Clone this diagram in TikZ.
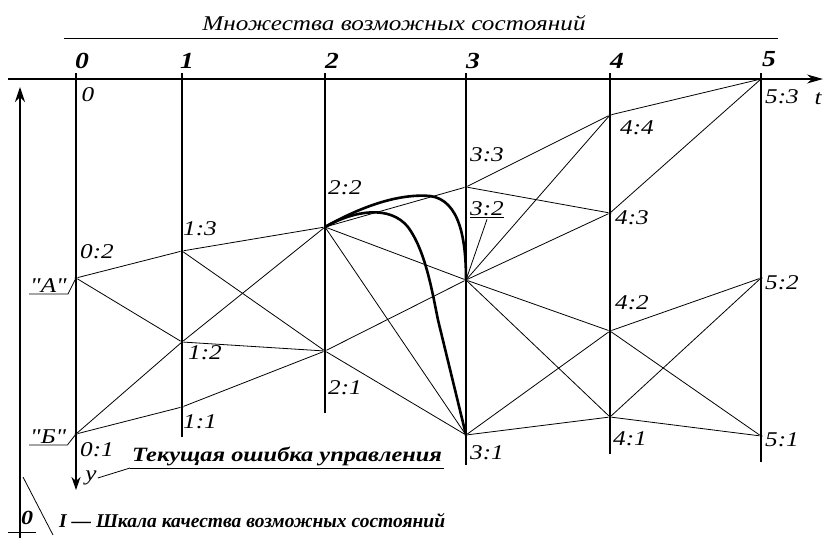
\documentclass[tikz,border=0pt]{standalone}
\usepackage{fontspec}
\setmainfont{Liberation Serif}
\newfontfamily\wideserif[FakeStretch=1.2]{Liberation Serif}
\usetikzlibrary{arrows.meta,positioning}

\begin{document}
\begin{tikzpicture}[
  x=1pt,y=-1pt,
  axis/.style={line width=1.2pt},
  edge/.style={line width=0.8pt},
  optimum/.style={line width=2.6pt,line cap=round},
  state/.style={circle,fill,inner sep=0pt,minimum size=3pt},
  lbl/.style={font=\wideserif\itshape\fontsize{21}{21}\selectfont,inner sep=1pt},
  colnum/.style={font=\wideserif\bfseries\itshape\fontsize{23}{23}\selectfont,inner sep=1pt},
  caption/.style={font=\wideserif\bfseries\itshape\fontsize{20}{20}\selectfont,inner sep=1pt}
]
\useasboundingbox (0,0) rectangle (825,538);
\node[lbl] (title) at (394,23) {Множества возможных состояний};
\draw[edge] (64,38) -- (778,38);
\node[colnum] (k0) at (82,61) {0};
\node[colnum] (k1) at (187,61) {1};
\node[colnum] (k2) at (332,61) {2};
\node[colnum] (k3) at (473,61) {3};
\node[colnum] (k4) at (617,61) {4};
\node[colnum] (k5) at (769,59) {5};
\draw[axis,-{Stealth[length=16pt,width=9pt,inset=5pt]}] (8,79) -- (823,79);
\node[lbl] (tlab) at (818,99) {t};
\draw[axis,-{Stealth[length=13pt,width=9pt,inset=4pt]}] (76,73) -- (76,490);
\draw[axis] (182,73) -- (182,437);
\draw[axis] (325,73) -- (325,413);
\draw[axis] (466,73) -- (466,465);
\draw[axis] (610,73) -- (610,454);
\draw[axis] (761,73) -- (761,462);
\draw[axis,-{Stealth[length=15pt,width=10pt,inset=5pt]}] (20,538) -- (20,87);
% states
\node[state] (s02) at (76,278) {};
\node[state] (s01) at (76,434) {};
\node[state] (s13) at (182,251) {};
\node[state] (s12) at (182,342) {};
\node[state] (s11) at (182,407) {};
\node[state] (s22) at (325,227) {};
\node[state] (s21) at (325,351) {};
\node[state] (s33) at (466,187) {};
\node[state] (s32) at (466,280) {};
\node[state] (s31) at (466,435) {};
\node[state] (s44) at (610,115) {};
\node[state] (s43) at (610,213) {};
\node[state] (s42) at (610,331) {};
\node[state] (s41) at (610,417) {};
\node[state] (s53) at (761,79) {};
\node[state] (s52) at (761,278) {};
\node[state] (s51) at (761,436) {};
% transitions
\draw[edge] (s02) -- (s13);
\draw[edge] (s02) -- (s12);
\draw[edge] (s01) -- (s12);
\draw[edge] (s01) -- (s11);
\draw[edge] (s13) -- (s22);
\draw[edge] (s13) -- (s21);
\draw[edge] (s12) -- (s22);
\draw[edge] (s12) -- (s21);
\draw[edge] (s11) -- (s21);
\draw[edge] (s22) -- (s33);
\draw[edge] (s22) -- (s32);
\draw[edge] (s22) -- (s31);
\draw[edge] (s21) -- (s32);
\draw[edge] (s21) -- (s31);
\draw[edge] (s33) -- (s44);
\draw[edge] (s33) -- (s43);
\draw[edge] (s32) -- (s44);
\draw[edge] (s32) -- (s43);
\draw[edge] (s32) -- (s42);
\draw[edge] (s32) -- (s41);
\draw[edge] (s31) -- (s42);
\draw[edge] (s31) -- (s41);
\draw[edge] (s44) -- (s53);
\draw[edge] (s43) -- (s53);
\draw[edge] (s42) -- (s52);
\draw[edge] (s42) -- (s51);
\draw[edge] (s41) -- (s52);
\draw[edge] (s41) -- (s51);
\draw[optimum] (s22.center) .. controls (355,210) and (395,193) .. (430,196)
  .. controls (460,200) and (466,240) .. (s32.center);
\draw[optimum] (s22.center) .. controls (355,210) and (390,205) .. (408,227)
  .. controls (425,250) and (432,290) .. (438,320) -- (s31.center);
% state labels
\node[lbl] (l00) at (88,95) {0};
\node[lbl] (l02) at (97,252) {0:2};
\node[lbl] (l01) at (97,450) {0:1};
\node[lbl] (l13) at (200,229) {1:3};
\node[lbl] (l12) at (205,353) {1:2};
\node[lbl] (l11) at (200,422) {1:1};
\node[lbl] (l22) at (345,188) {2:2};
\node[lbl] (l21) at (345,388) {2:1};
\node[lbl] (l33) at (487,155) {3:3};
\node[lbl] (l32) at (487,210) {\underline{3:2}};
\node[lbl] (l31) at (487,453) {3:1};
\node[lbl] (l44) at (637,128) {4:4};
\node[lbl] (l43) at (632,218) {4:3};
\node[lbl] (l42) at (632,303) {4:2};
\node[lbl] (l41) at (630,439) {4:1};
\node[lbl] (l53) at (782,97) {5:3};
\node[lbl] (l52) at (782,283) {5:2};
\node[lbl] (l51) at (782,440) {5:1};
\draw[edge] (l32.south) -- (s32);
\node[lbl,minimum width=30pt,anchor=south west] (qa) at (29,294) {"А"};
\draw[edge] (qa.south west) -- (qa.south east) -- (s02);
\node[lbl,minimum width=31pt,anchor=south west] (qb) at (29,445) {"Б"};
\draw[edge] (qb.south west) -- (qb.south east) -- (s01);
\node[lbl] (ylab) at (91,478) {y};
\node[caption,font=\wideserif\bfseries\itshape\fontsize{20.3}{20.3}\selectfont,anchor=south west,inner sep=2pt] (err) at (130,468) {Текущая ошибка управления};
\draw[edge] (err.south west) -- (err.south east);
\draw[edge] (ylab.east) -- (err.south west);
\node[caption] (zero) at (27,518) {0};
\draw[edge] (8,532) -- (36,532);
\draw[edge] (23,477) -- (53,535);
\node[caption,font=\rmfamily\bfseries\itshape\fontsize{19.5}{19.5}\selectfont,anchor=west] (scale) at (58,521) {I — Шкала качества возможных состояний};
\end{tikzpicture}
\end{document}
